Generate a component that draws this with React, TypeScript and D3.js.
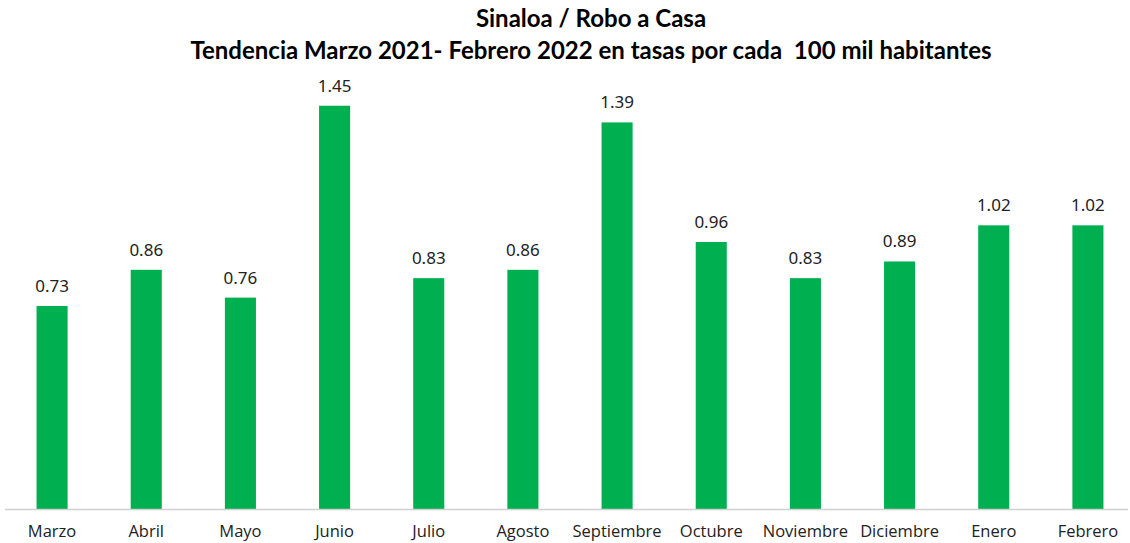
import * as d3 from "d3";
import { useEffect, useRef } from "react";

const months = [
  "Marzo", "Abril", "Mayo", "Junio", "Julio", "Agosto",
  "Septiembre", "Octubre", "Noviembre", "Diciembre", "Enero", "Febrero",
];
const rates = [0.73, 0.86, 0.76, 1.45, 0.83, 0.86, 1.39, 0.96, 0.83, 0.89, 1.02, 1.02];
const titleLines = [
  "Sinaloa / Robo a Casa",
  "Tendencia Marzo 2021- Febrero 2022 en tasas por cada  100 mil habitantes",
];

export default function App() {
  const svgRef = useRef<SVGSVGElement>(null);

  useEffect(() => {
    const width = 1130;
    const height = 543;
    const svg = d3.select(svgRef.current).attr("width", width).attr("height", height);
    svg.selectAll("*").remove();

    const x = d3.scaleBand().domain(months).range([5, 1135]).paddingInner(0.67).paddingOuter(0.335);
    const y = d3.scaleLinear().domain([0, 1.6]).range([509, 64]);

    // Title
    svg.append("g")
      .selectAll("text")
      .data(titleLines)
      .join("text")
      .attr("x", 591)
      .attr("y", (_, i) => 27 + i * 32)
      .attr("text-anchor", "middle")
      .attr("font-family", "Lato, 'Open Sans', sans-serif")
      .attr("font-weight", "bold")
      .attr("font-size", "24px")
      .attr("fill", "#000")
      .style("white-space", "pre")
      .text(d => d);

    // Bars
    svg.append("g")
      .selectAll("rect")
      .data(rates)
      .join("rect")
      .attr("x", (_, i) => x(months[i])!)
      .attr("y", d => y(d))
      .attr("width", x.bandwidth())
      .attr("height", d => y(0) - y(d))
      .attr("fill", "#00B050");

    // Value labels
    svg.append("g")
      .selectAll("text")
      .data(rates)
      .join("text")
      .attr("x", (_, i) => x(months[i])! + x.bandwidth() / 2)
      .attr("y", d => y(d) - 14)
      .attr("text-anchor", "middle")
      .attr("font-family", "'Noto Sans', 'Open Sans', sans-serif")
      .attr("font-size", "17px")
      .attr("fill", "#222")
      .text(d => d.toFixed(2));

    // Axis line
    svg.append("line")
      .attr("x1", 5)
      .attr("x2", 1128)
      .attr("y1", y(0) + 0.5)
      .attr("y2", y(0) + 0.5)
      .attr("stroke", "#d0d0d0")
      .attr("stroke-width", 1.5);

    // Category labels
    svg.append("g")
      .selectAll("text")
      .data(months)
      .join("text")
      .attr("x", d => x(d)! + x.bandwidth() / 2)
      .attr("y", 537)
      .attr("text-anchor", "middle")
      .attr("font-family", "'Open Sans', 'Noto Sans', sans-serif")
      .attr("font-size", "16.5px")
      .attr("fill", "#222")
      .text(d => d);
  }, []);

  return (
    <div style={{ position: "absolute", left: 0, top: 0 }}>
      <svg ref={svgRef}></svg>
    </div>
  );
}
